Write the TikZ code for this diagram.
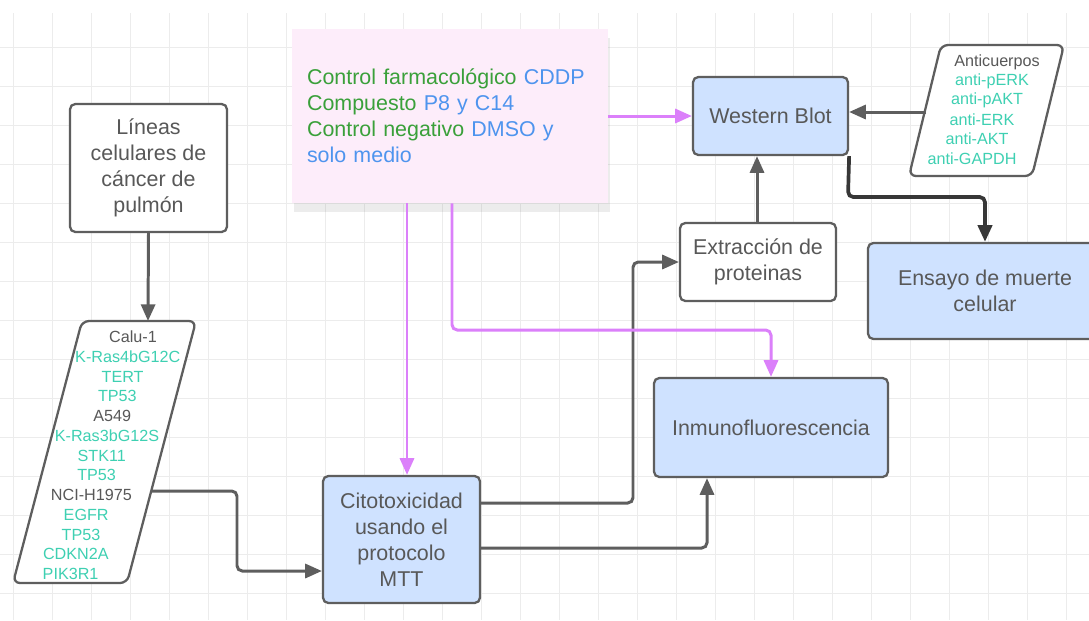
\documentclass[tikz,border=0pt]{standalone}
\usepackage{fontspec}
\setmainfont{Liberation Sans}
\usepackage{tikz}
\usetikzlibrary{arrows.meta, positioning, shadows}
\definecolor{LineGray}{RGB}{94, 94, 94}
\definecolor{TextGray}{RGB}{88, 88, 88}
\definecolor{DarkLine}{RGB}{55, 55, 55}
\definecolor{GridGray}{RGB}{236, 236, 236}
\definecolor{BoxBlue}{RGB}{207, 226, 255}
\definecolor{NotePink}{RGB}{253, 237, 250}
\definecolor{DrugGreen}{RGB}{58, 160, 58}
\definecolor{DrugBlue}{RGB}{78, 148, 238}
\definecolor{GeneTeal}{RGB}{62, 208, 178}
\definecolor{LinkViolet}{RGB}{219, 128, 250}
\newcommand{\bigtxt}{\fontsize{12.2}{14.8}\selectfont}
\newcommand{\smalltxt}{\fontsize{9.2}{11}\selectfont}
\tikzset{
  box/.style={rectangle, rounded corners=3pt, draw=LineGray, line width=1.3pt,
              fill=#1, text=TextGray, font=\bigtxt, align=center, inner sep=0pt},
  para/.style={draw=LineGray, line width=1.3pt, rounded corners=4pt, fill=white},
  gene/.style={font=\smalltxt, text=#1, inner sep=0pt},
  arr/.style={-{Triangle[length=9.5pt, width=8pt]}, line width=1.7pt, draw=#1,
              rounded corners=3pt},
  gridline/.style={draw=GridGray, line width=0.5pt},
  note/.style={rectangle, fill=NotePink, font=\bigtxt, align=left,
               inner xsep=0.3cm, inner ysep=0pt,
               drop shadow={opacity=0.15, shadow xshift=1pt, shadow yshift=-5pt}},
}

\begin{document}
\begin{tikzpicture}[x=0.02cm, y=-0.02cm]
  \useasboundingbox (0,0) rectangle (1089,620);
  \fill[white] (0,0) rectangle (1089,620);
  \foreach \gx in {0,...,27}
    \draw[gridline] ({13+39*\gx},13) -- ({13+39*\gx},620);
  \foreach \gy in {0,...,14}
    \draw[gridline] (0,{47+39*\gy}) -- (1089,{47+39*\gy});

  \node[box=white, minimum width=3.14cm, minimum height=2.56cm] (lineas)
        at (148.5,168) {Líneas\\celulares de\\cáncer de\\pulmón};
  \node[note, minimum width=6.32cm, minimum height=3.48cm, text width=5.72cm] (note)
        at (450,116) {\textcolor{DrugGreen}{Control farmacológico} \textcolor{DrugBlue}{CDDP}\\
        \textcolor{DrugGreen}{Compuesto} \textcolor{DrugBlue}{P8 y C14}\\
        \textcolor{DrugGreen}{Control negativo} \textcolor{DrugBlue}{DMSO y}\\
        \textcolor{DrugBlue}{solo medio}};
  \node[box=BoxBlue, minimum width=3.14cm, minimum height=2.54cm] (cito)
        at (401.5,539.5) {Citotoxicidad\\usando el\\protocolo\\MTT};
  \node[box=BoxBlue, minimum width=3.1cm, minimum height=1.56cm] (wb)
        at (770.5,116) {Western Blot};
  \node[box=white, minimum width=3.12cm, minimum height=1.56cm] (extr)
        at (758,262) {Extracción de\\proteinas};
  \node[box=BoxBlue, minimum width=4.68cm, minimum height=1.98cm] (inmuno)
        at (771,427.5) {Inmunofluorescencia};
  \node[box=BoxBlue, minimum width=4.68cm, minimum height=1.92cm] (ensayo)
        at (985,291) {Ensayo de muerte\\celular};

  \draw[para] (82,321) -- (196,321) -- (127,583) -- (13,583) -- cycle;
  \coordinate (calutop) at (148,321);
  \coordinate (caluout) at (151,491);
  \foreach \txt/\col [count=\i from 0] in {Calu-1/TextGray, K-Ras4bG12C/GeneTeal,
      TERT/GeneTeal, TP53/GeneTeal, A549/TextGray, K-Ras3bG12S/GeneTeal,
      STK11/GeneTeal, TP53/GeneTeal, NCI-H1975/TextGray, EGFR/GeneTeal,
      TP53/GeneTeal, CDKN2A/GeneTeal, PIK3R1/GeneTeal}
    \node[gene=\col] (calu\i) at ({133-5.2*\i},{337+19.75*\i}) {\txt};

  \draw[para] (941,45) -- (1064,45) -- (1032,176) -- (909,176) -- cycle;
  \coordinate (antiout) at (926,112);
  \foreach \txt/\col [count=\i from 0] in {Anticuerpos/TextGray, anti-pERK/GeneTeal,
      anti-pAKT/GeneTeal, anti-ERK/GeneTeal, anti-AKT/GeneTeal, anti-GAPDH/GeneTeal}
    \node[gene=\col] (anti\i) at ({997-5*\i},{62+19.3*\i}) {\txt};

  \draw[arr=LineGray] (lineas.south) -- (calutop);
  \draw[arr=LineGray] (caluout) -| (237,571) -- (cito.west |- 0,571);
  \draw[arr=LineGray] (cito.east |- 0,503) -- (633,503) |- (extr.west);
  \draw[arr=LineGray] (cito.east |- 0,548) -| (inmuno.south -| 707,0);
  \draw[arr=LineGray] (extr.north -| 757,0) -- (wb.south -| 757,0);
  \draw[arr=LineGray] (antiout) -- (wb.east |- antiout);
  \draw[arr=DarkLine, line width=2.1pt] (wb.south east) -- (848,197) -| (ensayo.north);
  \draw[arr=LinkViolet] (note.east |- wb.west) -- (wb.west);
  \draw[arr=LinkViolet] (note.south -| 407,0) -- (cito.north -| 407,0);
  \draw[arr=LinkViolet] (note.south -| 452,0) |- (771,330) -- (inmuno.north);
\end{tikzpicture}
\end{document}
